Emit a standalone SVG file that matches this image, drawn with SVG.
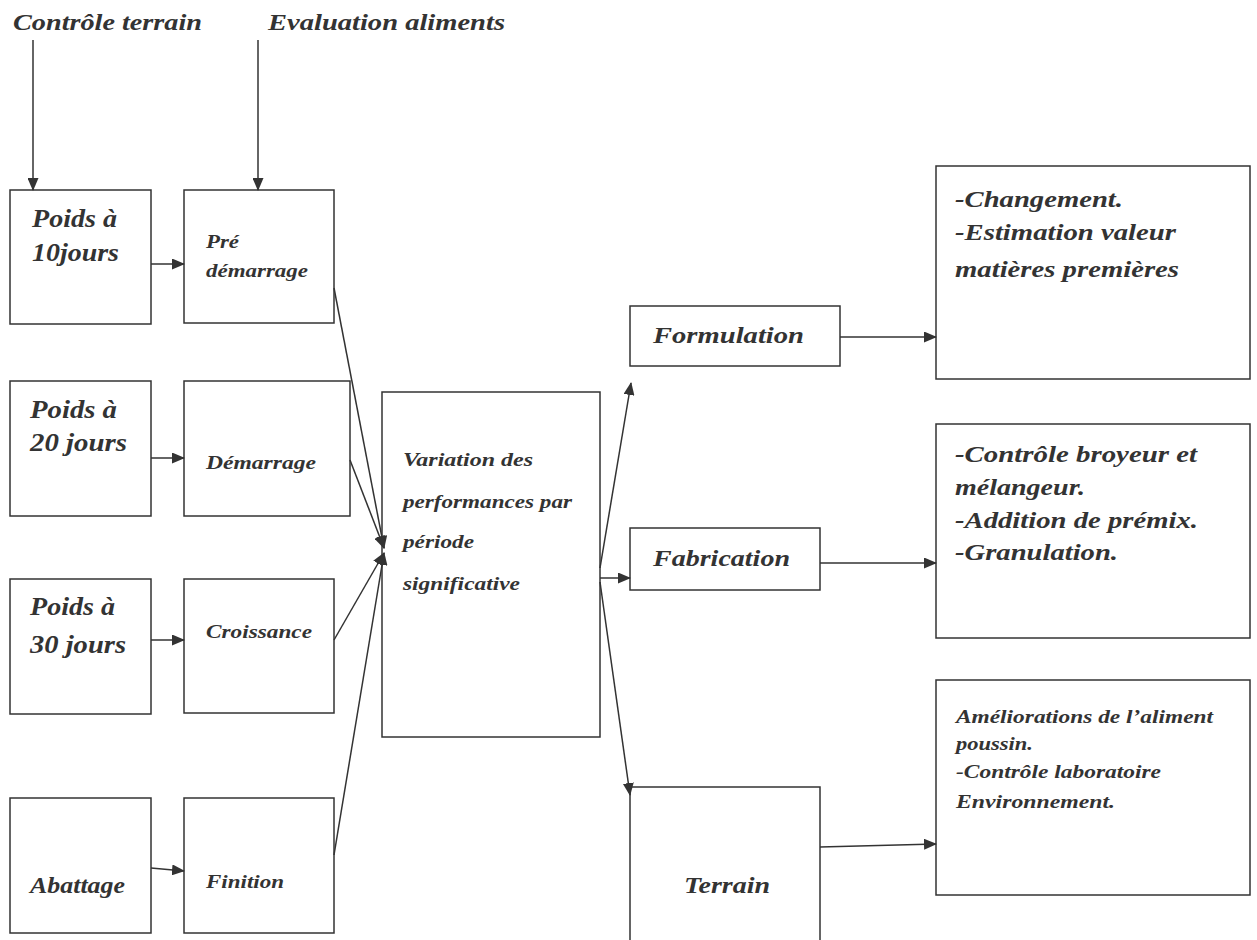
<svg xmlns="http://www.w3.org/2000/svg" width="1257" height="940" viewBox="0 0 1257 940">
<style>
.box{fill:#fff;stroke:#333;stroke-width:1.5}
.t{font-family:"Liberation Serif",serif;font-weight:bold;font-style:italic;fill:#333}
.big{font-size:26px}
.mid{font-size:24px}
.r{font-size:23px}
.sm{font-size:18px}
.c{stroke:#333;stroke-width:1.5;fill:none;marker-end:url(#ah)}
</style>
<defs>
<marker id="ah" markerWidth="13" markerHeight="11" refX="12" refY="5.5" orient="auto" markerUnits="userSpaceOnUse"><path d="M0,0 L13,5.5 L0,11 z" fill="#333"/></marker>
</defs>
<rect width="1257" height="940" fill="#fff"/>
<g id="labels">
<text class="t mid" x="13" y="30" textLength="189" lengthAdjust="spacingAndGlyphs">Contrôle terrain</text>
<text class="t mid" x="268" y="30" textLength="237" lengthAdjust="spacingAndGlyphs">Evaluation aliments</text>
</g>
<g id="n-poids10"><rect class="box" x="10" y="190" width="141" height="134"/><text class="t big" x="32" y="227" textLength="85" lengthAdjust="spacingAndGlyphs">Poids à</text><text class="t big" x="32" y="261" textLength="87" lengthAdjust="spacingAndGlyphs">10jours</text></g>
<g id="n-predem"><rect class="box" x="184" y="190" width="150" height="133"/><text class="t sm" x="206" y="248" textLength="33" lengthAdjust="spacingAndGlyphs">Pré</text><text class="t sm" x="206" y="277" textLength="102" lengthAdjust="spacingAndGlyphs">démarrage</text></g>
<g id="n-poids20"><rect class="box" x="10" y="381" width="141" height="135"/><text class="t big" x="30" y="418" textLength="87" lengthAdjust="spacingAndGlyphs">Poids à</text><text class="t big" x="30" y="451" textLength="97" lengthAdjust="spacingAndGlyphs">20 jours</text></g>
<g id="n-dem"><rect class="box" x="184" y="381" width="166" height="135"/><text class="t sm" x="206" y="469" textLength="110" lengthAdjust="spacingAndGlyphs">Démarrage</text></g>
<g id="n-poids30"><rect class="box" x="10" y="579" width="141" height="135"/><text class="t big" x="30" y="615" textLength="85" lengthAdjust="spacingAndGlyphs">Poids à</text><text class="t big" x="30" y="653" textLength="96" lengthAdjust="spacingAndGlyphs">30 jours</text></g>
<g id="n-crois"><rect class="box" x="184" y="579" width="150" height="134"/><text class="t sm" x="206" y="638" textLength="106" lengthAdjust="spacingAndGlyphs">Croissance</text></g>
<g id="n-abattage"><rect class="box" x="10" y="798" width="141" height="135"/><text class="t mid" x="30" y="893" textLength="95" lengthAdjust="spacingAndGlyphs">Abattage</text></g>
<g id="n-finition"><rect class="box" x="184" y="798" width="150" height="135"/><text class="t sm" x="206" y="888" textLength="78" lengthAdjust="spacingAndGlyphs">Finition</text></g>
<g id="n-variation"><rect class="box" x="382" y="392" width="218" height="345"/>
<text class="t sm" x="403" y="466" textLength="130" lengthAdjust="spacingAndGlyphs">Variation des</text>
<text class="t sm" x="403" y="508" textLength="169" lengthAdjust="spacingAndGlyphs">performances par</text>
<text class="t sm" x="403" y="548" textLength="71" lengthAdjust="spacingAndGlyphs">période</text>
<text class="t sm" x="403" y="590" textLength="117" lengthAdjust="spacingAndGlyphs">significative</text></g>
<g id="n-formulation"><rect class="box" x="630" y="306" width="210" height="60"/><text class="t mid" x="653" y="343" textLength="151" lengthAdjust="spacingAndGlyphs">Formulation</text></g>
<g id="n-fabrication"><rect class="box" x="630" y="528" width="190" height="62"/><text class="t mid" x="653" y="566" textLength="137" lengthAdjust="spacingAndGlyphs">Fabrication</text></g>
<g id="n-terrain"><rect class="box" x="630" y="787" width="190" height="160"/><text class="t mid" x="684" y="893" textLength="86" lengthAdjust="spacingAndGlyphs">Terrain</text></g>
<g id="n-r1"><rect class="box" x="936" y="166" width="314" height="213"/>
<text class="t r" x="955" y="207" textLength="168" lengthAdjust="spacingAndGlyphs">-Changement.</text>
<text class="t r" x="955" y="240" textLength="221" lengthAdjust="spacingAndGlyphs">-Estimation valeur</text>
<text class="t r" x="955" y="277" textLength="224" lengthAdjust="spacingAndGlyphs">matières premières</text></g>
<g id="n-r2"><rect class="box" x="936" y="424" width="314" height="214"/>
<text class="t r" x="955" y="462" textLength="242" lengthAdjust="spacingAndGlyphs">-Contrôle broyeur et</text>
<text class="t r" x="955" y="495" textLength="130" lengthAdjust="spacingAndGlyphs">mélangeur.</text>
<text class="t r" x="955" y="528" textLength="243" lengthAdjust="spacingAndGlyphs">-Addition de prémix.</text>
<text class="t r" x="955" y="560" textLength="163" lengthAdjust="spacingAndGlyphs">-Granulation.</text></g>
<g id="n-r3"><rect class="box" x="936" y="680" width="314" height="215"/>
<text class="t sm" x="956" y="723" textLength="257" lengthAdjust="spacingAndGlyphs">Améliorations de l’aliment</text>
<text class="t sm" x="956" y="750" textLength="77" lengthAdjust="spacingAndGlyphs">poussin.</text>
<text class="t sm" x="956" y="778" textLength="205" lengthAdjust="spacingAndGlyphs">-Contrôle laboratoire</text>
<text class="t sm" x="956" y="808" textLength="159" lengthAdjust="spacingAndGlyphs">Environnement.</text></g>
<g id="connectors">
<line class="c" x1="33" y1="40" x2="33" y2="190"/>
<line class="c" x1="258" y1="40" x2="258" y2="190"/>
<line class="c" x1="151" y1="264" x2="184" y2="264"/>
<line class="c" x1="151" y1="458" x2="184" y2="458"/>
<line class="c" x1="151" y1="640" x2="184" y2="640"/>
<line class="c" x1="151" y1="868" x2="184" y2="871"/>
<line class="c" x1="334" y1="288" x2="384" y2="548"/>
<line class="c" x1="350" y1="460" x2="384" y2="548"/>
<line class="c" x1="334" y1="640" x2="384" y2="553"/>
<line class="c" x1="334" y1="855" x2="384" y2="553"/>
<line class="c" x1="600" y1="568" x2="631" y2="383"/>
<line class="c" x1="600" y1="578" x2="630" y2="578"/>
<line class="c" x1="600" y1="582" x2="630" y2="795"/>
<line class="c" x1="840" y1="337" x2="936" y2="337"/>
<line class="c" x1="820" y1="563" x2="936" y2="563"/>
<line class="c" x1="820" y1="847" x2="936" y2="844"/>
</g>
</svg>
